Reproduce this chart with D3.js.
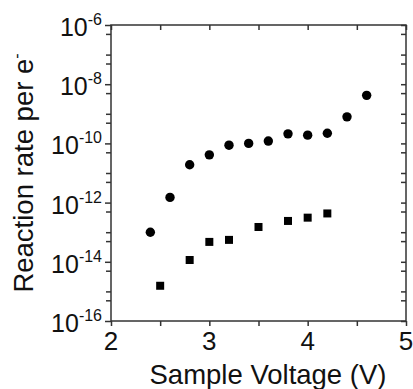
<!DOCTYPE html>
<html>
<head>
<meta charset="utf-8">
<script src="https://cdn.jsdelivr.net/npm/d3@7"></script>
<style>
  body { margin: 0; background: #fff; }
  text { font-family: "Liberation Sans", Arial, sans-serif; fill: #111; }
</style>
</head>
<body>
<script>
// reaction rate per electron vs sample voltage (log y)
const circleV = [2.4, 2.6, 2.8, 3.0, 3.2, 3.4, 3.6, 3.8, 4.0, 4.2, 4.4, 4.6];
const circleRate = [1.0e-13, 1.5e-12, 1.9e-11, 4.1e-11, 8.7e-11, 1.0e-10, 1.2e-10, 2.1e-10, 1.9e-10, 2.2e-10, 7.9e-10, 4.2e-9];

const squareV = [2.5, 2.8, 3.0, 3.2, 3.5, 3.8, 4.0, 4.2];
const squareRate = [1.55e-15, 1.15e-14, 4.7e-14, 5.5e-14, 1.5e-13, 2.4e-13, 3.1e-13, 4.3e-13];

const xTicks = [2, 3, 4, 5];
const xMinor = [2.5, 3.5, 4.5];
const yTicks = [-6, -8, -10, -12, -14, -16]; // exponents of labelled ticks

const W = 413, H = 389;
const L = 111, R = 406, T = 25, B = 321;

const svg = d3.select("body").append("svg")
    .attr("width", W)
    .attr("height", H);

const x = d3.scaleLinear().domain([2, 5]).range([L, R]);
const y = d3.scaleLog().domain([1e-16, 1e-6]).range([B, T]);

// minor y ticks: every decade plus 5 x 10^k
const yMinor = [];
for (let e = -16; e < -6; e++) {
  yMinor.push(5 * Math.pow(10, e));
  if ((e + 16) % 2 === 1) yMinor.push(Math.pow(10, e));
}

// frame
svg.append("rect")
    .attr("x", L).attr("y", T)
    .attr("width", R - L).attr("height", B - T)
    .attr("fill", "none")
    .attr("stroke", "#333")
    .attr("stroke-width", 1.5);

// left axis (outward)
const gl = svg.append("g").attr("transform", `translate(${L},0)`);
gl.call(d3.axisLeft(y).tickValues(yTicks.map(e => Math.pow(10, e))).tickSize(6).tickFormat(""));
gl.call(g => g.selectAll(".tick line").attr("stroke", "#333").attr("stroke-width", 1.5));
const glm = svg.append("g").attr("transform", `translate(${L},0)`);
glm.call(d3.axisLeft(y).tickValues(yMinor).tickSize(5).tickFormat(""));
glm.call(g => g.selectAll(".tick line").attr("stroke", "#333").attr("stroke-width", 1.5));

// right axis (inward)
const gr = svg.append("g").attr("transform", `translate(${R},0)`);
gr.call(d3.axisLeft(y).tickValues(yTicks.map(e => Math.pow(10, e)).concat(yMinor)).tickSize(5).tickFormat(""));
gr.call(g => g.selectAll(".tick line").attr("stroke", "#333").attr("stroke-width", 1.5));

// bottom axis (outward)
const gb = svg.append("g").attr("transform", `translate(0,${B})`);
gb.call(d3.axisBottom(x).tickValues(xTicks.concat(xMinor)).tickSize(5).tickFormat(""));
gb.call(g => g.selectAll(".tick line").attr("stroke", "#333").attr("stroke-width", 1.5));

// top axis (inward)
const gt = svg.append("g").attr("transform", `translate(0,${T})`);
gt.call(d3.axisBottom(x).tickValues(xTicks.concat(xMinor)).tickSize(5).tickFormat(""));
gt.call(g => g.selectAll(".tick line").attr("stroke", "#333").attr("stroke-width", 1.5));

svg.selectAll(".domain").remove();

// y tick labels 10^n
const yl = svg.append("g").selectAll("text")
    .data(yTicks)
    .enter()
    .append("text")
    .attr("x", 102)
    .attr("y", d => y(Math.pow(10, d)) + 11)
    .attr("text-anchor", "end")
    .style("font-size", "25px");
yl.append("tspan").text("10");
yl.append("tspan")
    .attr("dy", -11)
    .style("font-size", "16px")
    .text(d => "-" + Math.abs(d));

// x tick labels
svg.append("g").selectAll("text")
    .data(xTicks)
    .enter()
    .append("text")
    .attr("x", d => x(d))
    .attr("y", 350)
    .attr("text-anchor", "middle")
    .style("font-size", "26px")
    .text(d => d);

// axis titles
svg.append("text")
    .attr("x", 268)
    .attr("y", 384)
    .attr("text-anchor", "middle")
    .style("font-size", "27.5px")
    .text("Sample Voltage (V)");

const yt = svg.append("text")
    .attr("transform", "translate(33,173) rotate(-90)")
    .attr("text-anchor", "middle")
    .style("font-size", "27.5px");
yt.append("tspan").text("Reaction rate per e");
yt.append("tspan").attr("dy", -11).style("font-size", "16px").text("-");

// data
svg.append("g").selectAll("circle")
    .data(circleV.map((v, i) => [v, circleRate[i]]))
    .enter()
    .append("circle")
    .attr("cx", d => x(d[0]))
    .attr("cy", d => y(d[1]))
    .attr("r", 4.7)
    .attr("fill", "#000");

svg.append("g").selectAll("rect")
    .data(squareV.map((v, i) => [v, squareRate[i]]))
    .enter()
    .append("rect")
    .attr("x", d => x(d[0]) - 4)
    .attr("y", d => y(d[1]) - 4)
    .attr("width", 8)
    .attr("height", 8)
    .attr("fill", "#000");
</script>
</body>
</html>
